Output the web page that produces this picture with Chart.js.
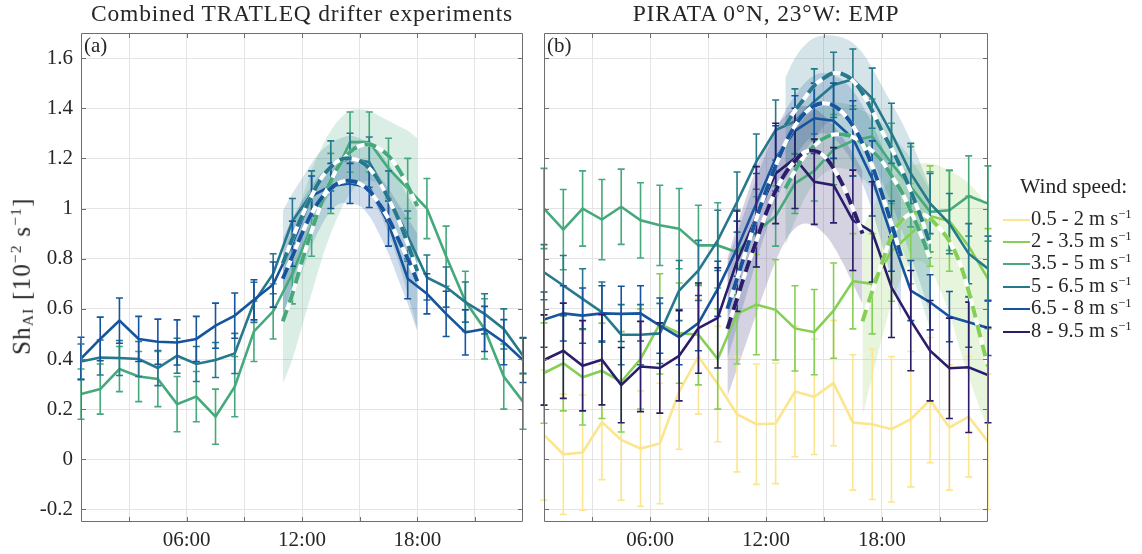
<!DOCTYPE html>
<html>
<head>
<meta charset="utf-8">
<script src="https://cdn.jsdelivr.net/npm/chart.js@4.4.1/dist/chart.umd.min.js"></script>
<style>
  body { margin: 0; width: 1142px; height: 554px; background: #fff; overflow: hidden;
         font-family: "Liberation Serif", "DejaVu Serif", serif; color: #262626; position: relative; }
  canvas { position: absolute; top: 0; }
  .title { position: absolute; top: 0px; font-size: 23.5px; text-align: center; white-space: nowrap; letter-spacing: 0.8px; }
  .tag { position: absolute; top: 33px; font-size: 21px; }
  #ylab { position: absolute; left: -128px; top: 261px; width: 300px; text-align: center; font-size: 25px;
          transform: rotate(-90deg); white-space: nowrap; letter-spacing: 1.2px; }
  #ylab sub, #legend sub { font-size: 0.62em; vertical-align: -0.25em; }
  #ylab sup, #legend sup { font-size: 0.62em; vertical-align: 0.55em; }
  #legend { position: absolute; left: 1000px; top: 174px; font-size: 20.5px; }
  #legend .lt { position: absolute; left: 20px; top: 0; white-space: nowrap; font-size: 21.5px; }
  #legend .le { position: absolute; left: 3px; white-space: nowrap; height: 22px; line-height: 22px; }
  #legend .sw { display: inline-block; width: 27px; height: 2px; vertical-align: middle; margin-right: 1px; }
</style>
</head>
<body>
<canvas id="ca" width="540" height="554" style="left:0"></canvas>
<canvas id="cb" width="602" height="554" style="left:540px"></canvas>
<div class="title" style="left:81px;width:442px">Combined TRATLEQ drifter experiments</div>
<div class="title" style="left:544px;width:444px">PIRATA 0°N, 23°W: EMP</div>
<div class="tag" style="left:84px">(a)</div>
<div class="tag" style="left:547px">(b)</div>
<div id="ylab">Sh<sub>AI</sub> [10<sup>−2</sup> s<sup>−1</sup>]</div>
<div id="legend">
  <div class="lt">Wind speed:</div>
  <div class="le" style="top:29px"><span class="sw" style="background:#fbe68f"></span>0.5 - 2 m s<sup>−1</sup></div>
  <div class="le" style="top:51px"><span class="sw" style="background:#86cf55"></span>2 - 3.5 m s<sup>−1</sup></div>
  <div class="le" style="top:73px"><span class="sw" style="background:#45a97b"></span>3.5 - 5 m s<sup>−1</sup></div>
  <div class="le" style="top:96px"><span class="sw" style="background:#26788c"></span>5 - 6.5 m s<sup>−1</sup></div>
  <div class="le" style="top:118px"><span class="sw" style="background:#17549e"></span>6.5 - 8 m s<sup>−1</sup></div>
  <div class="le" style="top:141px"><span class="sw" style="background:#2b1d6b"></span>8 - 9.5 m s<sup>−1</sup></div>
</div>
<script>
// ---- hourly bins (local time, hours) ----
const hours = [0.5, 1.5, 2.5, 3.5, 4.5, 5.5, 6.5, 7.5, 8.5, 9.5, 10.5, 11.5,
               12.5, 13.5, 14.5, 15.5, 16.5, 17.5, 18.5, 19.5, 20.5, 21.5, 22.5, 23.5];

// ---- colours per wind-speed class ----
const colYellow = '#fbe68f', colLime = '#86cf55', colGreen = '#45a97b',
      colTeal = '#26788c', colBlue = '#17549e', colIndigo = '#2b1d6b';

// ---- axis ticks ----
const yTicks = [-0.2, 0, 0.2, 0.4, 0.6, 0.8, 1, 1.2, 1.4, 1.6];
const xGridHours = [3, 6, 9, 12, 15, 18, 21];
const xLabelHours = [6, 12, 18];

// ---- (a) drifter experiments: mean shear and error per hour ----
const aGreen    = [0.26, 0.28, 0.36, 0.33, 0.32, 0.22, 0.25, 0.17, 0.29, 0.51, 0.59, 0.74,
                   0.93, 1.10, 1.265, 1.265, 1.16, 1.08, 1.00, 0.81, 0.63, 0.52, 0.33, 0.23];
const aGreenErr = [0.10, 0.10, 0.09, 0.10, 0.11, 0.11, 0.10, 0.11, 0.12, 0.12, 0.11, 0.12,
                   0.12, 0.12, 0.12, 0.12, 0.12, 0.12, 0.12, 0.12, 0.12, 0.12, 0.13, 0.11];
const aTeal     = [0.39, 0.406, 0.404, 0.40, 0.364, 0.413, 0.38, 0.396, 0.422, 0.626, 0.74, 0.95,
                   1.06, 1.17, 1.20, 1.185, 1.05, 0.89, 0.725, 0.687, 0.627, 0.58, 0.52, 0.413];
const aTealErr  = [0.07, 0.07, 0.07, 0.07, 0.07, 0.07, 0.07, 0.07, 0.08, 0.08, 0.08, 0.09,
                   0.09, 0.10, 0.10, 0.10, 0.10, 0.10, 0.09, 0.08, 0.08, 0.08, 0.08, 0.07];
const aBlue     = [0.402, 0.48, 0.553, 0.48, 0.469, 0.466, 0.48, 0.533, 0.573, 0.636, 0.697, 0.86,
                   1.05, 1.09, 1.10, 1.084, 0.94, 0.72, 0.66, 0.58, 0.506, 0.52, 0.467, 0.396];
const aBlueErr  = [0.085, 0.087, 0.09, 0.09, 0.09, 0.09, 0.09, 0.09, 0.09, 0.08, 0.09, 0.09,
                   0.08, 0.09, 0.08, 0.08, 0.09, 0.08, 0.08, 0.09, 0.09, 0.09, 0.09, 0.09];

// ---- (a) fitted diurnal curves with confidence band ----
const aFitHours = [11, 11.5, 12, 12.5, 13, 13.5, 14, 14.5, 15, 15.5, 16, 16.5, 17, 17.5, 18];
const aGreenFit = [0.55, 0.66, 0.79, 0.91, 1.02, 1.11, 1.18, 1.225, 1.25, 1.255, 1.24, 1.21, 1.16, 1.09, 1.01];
const aGreenHi  = [0.80, 0.92, 1.04, 1.15, 1.24, 1.31, 1.36, 1.39, 1.395, 1.39, 1.37, 1.35, 1.33, 1.31, 1.28];
const aGreenLo  = [0.30, 0.40, 0.53, 0.66, 0.79, 0.90, 0.99, 1.06, 1.10, 1.11, 1.10, 1.06, 0.99, 0.89, 0.76];
const aTealFit  = [0.78, 0.88, 0.97, 1.05, 1.12, 1.165, 1.195, 1.20, 1.19, 1.16, 1.11, 1.04, 0.96, 0.86, 0.75];
const aTealHi   = [0.99, 1.06, 1.12, 1.18, 1.23, 1.26, 1.28, 1.29, 1.28, 1.26, 1.23, 1.18, 1.12, 1.05, 0.99];
const aTealLo   = [0.56, 0.70, 0.82, 0.92, 1.00, 1.06, 1.10, 1.11, 1.10, 1.06, 0.99, 0.90, 0.79, 0.66, 0.52];
const aBlueFit  = [0.72, 0.81, 0.90, 0.98, 1.04, 1.08, 1.105, 1.11, 1.10, 1.07, 1.02, 0.96, 0.88, 0.80, 0.71];
const aBlueHi   = [0.88, 0.96, 1.03, 1.09, 1.14, 1.17, 1.19, 1.20, 1.19, 1.17, 1.13, 1.08, 1.02, 0.96, 0.90];
const aBlueLo   = [0.55, 0.65, 0.75, 0.85, 0.93, 0.99, 1.02, 1.02, 1.01, 0.97, 0.90, 0.82, 0.72, 0.62, 0.51];

// ---- (b) PIRATA mooring: mean shear and error per hour ----
const bYellow    = [0.097, 0.02, 0.027, 0.149, 0.077, 0.043, 0.063, 0.27, 0.41, 0.30, 0.18, 0.14,
                    0.143, 0.27, 0.249, 0.304, 0.147, 0.14, 0.12, 0.16, 0.236, 0.127, 0.17, 0.07];
const bYellowErr = [0.26, 0.24, 0.23, 0.23, 0.24, 0.23, 0.24, 0.23, 0.23, 0.23, 0.23, 0.24,
                    0.24, 0.26, 0.23, 0.25, 0.27, 0.30, 0.29, 0.27, 0.25, 0.25, 0.24, 0.27];
const bLime      = [0.344, 0.383, 0.327, 0.353, 0.309, 0.40, 0.54, 0.503, 0.497, 0.40, 0.58, 0.617,
                    0.596, 0.522, 0.507, 0.593, 0.71, 0.70, 0.83, 0.90, 0.97, 0.95, 0.85, 0.72];
const bLimeErr   = [0.20, 0.19, 0.19, 0.19, 0.20, 0.20, 0.20, 0.20, 0.20, 0.20, 0.20, 0.20,
                    0.20, 0.17, 0.17, 0.19, 0.19, 0.20, 0.20, 0.20, 0.20, 0.20, 0.20, 0.20];
const bGreen     = [1.00, 0.916, 1.00, 0.956, 1.007, 0.953, 0.933, 0.92, 0.853, 0.853, 0.826, 0.907,
                    0.97, 1.10, 1.15, 1.235, 1.27, 1.287, 1.18, 1.087, 0.987, 0.993, 1.05, 1.02];
const bGreenErr  = [0.16, 0.16, 0.15, 0.16, 0.15, 0.15, 0.16, 0.16, 0.16, 0.17, 0.17, 0.14,
                    0.12, 0.12, 0.12, 0.14, 0.14, 0.15, 0.16, 0.16, 0.16, 0.16, 0.16, 0.15];
const bTeal      = [0.746, 0.693, 0.64, 0.587, 0.497, 0.497, 0.502, 0.673, 0.753, 0.873, 1.026, 1.187,
                    1.313, 1.347, 1.427, 1.493, 1.516, 1.44, 1.30, 1.14, 1.02, 0.94, 0.82, 0.76];
const bTealErr   = [0.11, 0.12, 0.12, 0.12, 0.12, 0.12, 0.12, 0.12, 0.12, 0.12, 0.12, 0.11,
                    0.12, 0.13, 0.13, 0.13, 0.12, 0.12, 0.12, 0.12, 0.12, 0.12, 0.12, 0.13];
const bBlue      = [0.557, 0.582, 0.573, 0.582, 0.58, 0.582, 0.533, 0.487, 0.543, 0.68, 0.84, 1.02,
                    1.20, 1.31, 1.36, 1.35, 1.28, 1.12, 0.89, 0.673, 0.626, 0.569, 0.547, 0.524];
const bBlueErr   = [0.11, 0.11, 0.11, 0.11, 0.11, 0.11, 0.11, 0.11, 0.11, 0.11, 0.11, 0.12,
                    0.13, 0.14, 0.14, 0.15, 0.15, 0.15, 0.14, 0.12, 0.11, 0.10, 0.10, 0.11];
const bIndigo    = [0.396, 0.433, 0.373, 0.397, 0.296, 0.37, 0.364, 0.413, 0.523, 0.564, 0.79, 0.967,
                    1.14, 1.20, 1.107, 1.093, 0.953, 0.907, 0.686, 0.553, 0.433, 0.363, 0.367, 0.336];
const bIndigoErr = [0.18, 0.19, 0.18, 0.18, 0.15, 0.18, 0.18, 0.18, 0.18, 0.20, 0.20, 0.20,
                    0.20, 0.20, 0.17, 0.15, 0.20, 0.20, 0.20, 0.20, 0.20, 0.20, 0.26, 0.19];

// ---- (b) fitted diurnal curves with confidence band ----
const bIndigoFitHours = [10, 10.5, 11, 11.5, 12, 12.5, 13, 13.5, 14, 14.5, 15, 15.5, 16, 16.5, 17];
const bIndigoFit = [0.52, 0.64, 0.76, 0.87, 0.98, 1.07, 1.14, 1.19, 1.225, 1.23, 1.21, 1.16, 1.09, 1.00, 0.90];
const bIndigoHi  = [0.80, 0.93, 1.05, 1.16, 1.25, 1.32, 1.37, 1.40, 1.41, 1.40, 1.37, 1.33, 1.28, 1.22, 1.15];
const bIndigoLo  = [0.25, 0.36, 0.47, 0.58, 0.69, 0.79, 0.87, 0.92, 0.94, 0.93, 0.90, 0.85, 0.78, 0.70, 0.62];
const bBlueFitHours = [10, 10.5, 11, 11.5, 12, 12.5, 13, 13.5, 14, 14.5, 15, 15.5, 16, 16.5, 17, 17.5, 18, 18.5, 19];
const bBlueFit = [0.60, 0.72, 0.84, 0.96, 1.07, 1.17, 1.26, 1.33, 1.38, 1.41, 1.42, 1.41, 1.38, 1.33, 1.26, 1.17, 1.06, 0.94, 0.81];
const bBlueHi  = [0.78, 0.90, 1.01, 1.12, 1.22, 1.31, 1.39, 1.45, 1.50, 1.53, 1.54, 1.53, 1.51, 1.47, 1.41, 1.34, 1.25, 1.15, 1.04];
const bBlueLo  = [0.40, 0.53, 0.66, 0.79, 0.91, 1.02, 1.12, 1.20, 1.26, 1.29, 1.30, 1.28, 1.24, 1.18, 1.10, 0.99, 0.86, 0.72, 0.57];
const bTealFitHours = [13, 13.5, 14, 14.5, 15, 15.5, 16, 16.5, 17, 17.5, 18, 18.5, 19, 19.5, 20, 20.5];
const bTealFit = [1.33, 1.39, 1.44, 1.49, 1.52, 1.54, 1.535, 1.51, 1.46, 1.39, 1.31, 1.24, 1.16, 1.07, 0.97, 0.86];
const bTealHi  = [1.52, 1.60, 1.65, 1.68, 1.69, 1.69, 1.68, 1.66, 1.62, 1.56, 1.49, 1.42, 1.35, 1.27, 1.18, 1.08];
const bTealLo  = [1.12, 1.18, 1.23, 1.28, 1.33, 1.36, 1.37, 1.34, 1.28, 1.20, 1.11, 1.02, 0.92, 0.81, 0.70, 0.58];
const bGreenFitHours = [13, 13.5, 14, 14.5, 15, 15.5, 16, 16.5, 17, 17.5, 18, 18.5, 19, 19.5, 20, 20.5];
const bGreenFit = [1.08, 1.15, 1.21, 1.25, 1.28, 1.295, 1.295, 1.285, 1.26, 1.23, 1.19, 1.13, 1.07, 0.99, 0.90, 0.80];
const bGreenHi  = [1.28, 1.32, 1.36, 1.39, 1.41, 1.42, 1.42, 1.41, 1.39, 1.37, 1.34, 1.30, 1.25, 1.20, 1.14, 1.07];
const bGreenLo  = [0.85, 0.95, 1.04, 1.10, 1.14, 1.16, 1.16, 1.15, 1.12, 1.08, 1.02, 0.94, 0.85, 0.75, 0.64, 0.52];
const bLimeFitHours = [17, 17.5, 18, 18.5, 19, 19.5, 20, 20.5, 21, 21.5, 22, 22.5, 23, 23.5];
const bLimeFit = [0.55, 0.67, 0.78, 0.89, 0.95, 0.98, 0.98, 0.96, 0.92, 0.87, 0.79, 0.67, 0.52, 0.37];
const bLimeHi  = [0.92, 1.00, 1.07, 1.12, 1.15, 1.17, 1.18, 1.18, 1.17, 1.15, 1.13, 1.10, 1.06, 1.00];
const bLimeLo  = [0.17, 0.33, 0.48, 0.62, 0.72, 0.78, 0.79, 0.76, 0.68, 0.58, 0.45, 0.33, 0.22, 0.12];

// ---- helpers building Chart.js datasets ----
const pts = (xs, ys) => xs.map((x, i) => ({ x: x, y: ys[i] }));
function rgba(hex, a) {
  const n = parseInt(hex.slice(1), 16);
  return `rgba(${(n >> 16) & 255},${(n >> 8) & 255},${n & 255},${a})`;
}
function bandSets(xs, lo, hi, color, alpha, order) {
  return [
    { data: pts(xs, lo), borderWidth: 0, pointRadius: 0, fill: false, tension: 0.4, order: order, borderColor: 'transparent' },
    { data: pts(xs, hi), borderWidth: 0, pointRadius: 0, fill: '-1', tension: 0.4, order: order,
      borderColor: 'transparent', backgroundColor: rgba(color, alpha) }
  ];
}
function meanSet(ys, errs, color, order) {
  return { data: pts(hours, ys), errors: errs, borderColor: color, borderWidth: 2.6,
           pointRadius: 0, fill: false, tension: 0, order: order };
}
// fitted curve: white line underneath, coloured dashes on top
function fitSets(xs, ys, color, order) {
  return [
    { data: pts(xs, ys), borderColor: '#ffffff', borderWidth: 4, pointRadius: 0, fill: false,
      tension: 0.4, order: order + 1 },
    { data: pts(xs, ys), borderColor: color, borderWidth: 4, borderDash: [12, 8], pointRadius: 0,
      fill: false, tension: 0.4, order: order }
  ];
}

// error bars with caps, drawn right after each mean line
const errorBars = {
  id: 'errorBars',
  afterDatasetDraw(chart, args) {
    const ds = chart.data.datasets[args.index];
    if (!ds.errors) return;
    const ctx = chart.ctx, xs = chart.scales.x, ys = chart.scales.y;
    ctx.save();
    ctx.strokeStyle = ds.borderColor;
    ctx.lineWidth = 1.6;
    ds.data.forEach((p, i) => {
      const e = ds.errors[i];
      const x = xs.getPixelForValue(p.x);
      const y1 = ys.getPixelForValue(p.y - e), y2 = ys.getPixelForValue(p.y + e);
      ctx.beginPath();
      ctx.moveTo(x, y1); ctx.lineTo(x, y2);
      ctx.moveTo(x - 3.5, y1); ctx.lineTo(x + 3.5, y1);
      ctx.moveTo(x - 3.5, y2); ctx.lineTo(x + 3.5, y2);
      ctx.stroke();
    });
    ctx.restore();
  }
};

// closed axes box with inward tick marks
const boxTicks = {
  id: 'boxTicks',
  afterDraw(chart) {
    const { ctx, chartArea: a } = chart;
    const xs = chart.scales.x, ys = chart.scales.y;
    ctx.save();
    ctx.strokeStyle = '#6e6e6e';
    ctx.lineWidth = 1;
    ctx.beginPath();
    ctx.rect(a.left + 0.5, a.top + 0.5, a.right - a.left - 1, a.bottom - a.top - 1);
    xGridHours.forEach(h => {
      const x = Math.round(xs.getPixelForValue(h)) + 0.5;
      ctx.moveTo(x, a.bottom); ctx.lineTo(x, a.bottom - 5);
      ctx.moveTo(x, a.top); ctx.lineTo(x, a.top + 5);
    });
    yTicks.forEach(v => {
      const y = Math.round(ys.getPixelForValue(v)) + 0.5;
      ctx.moveTo(a.left, y); ctx.lineTo(a.left + 5, y);
      ctx.moveTo(a.right, y); ctx.lineTo(a.right - 5, y);
    });
    ctx.stroke();
    ctx.restore();
  }
};

function makeOptions(showY, yWidth, rightPad) {
  return {
    responsive: false,
    animation: false,
    events: [],
    layout: { padding: { top: 33, right: rightPad, bottom: 0, left: 0 } },
    plugins: { legend: { display: false }, tooltip: { enabled: false }, filler: { propagate: false } },
    scales: {
      x: {
        type: 'linear', min: 0.5, max: 23.5,
        afterBuildTicks: s => { s.ticks = xGridHours.map(v => ({ value: v })); },
        afterFit: s => { s.height = 32; },
        grid: { color: '#e4e4e4', drawTicks: false },
        border: { display: false },
        ticks: {
          autoSkip: false, maxRotation: 0, padding: 6, color: '#262626',
          font: { family: 'Liberation Serif', size: 21 },
          callback: v => xLabelHours.includes(v) ? String(v).padStart(2, '0') + ':00' : ''
        }
      },
      y: {
        type: 'linear', min: -0.25, max: 1.7,
        afterBuildTicks: s => { s.ticks = yTicks.map(v => ({ value: v })); },
        afterFit: s => { s.width = yWidth; },
        grid: { color: '#e4e4e4', drawTicks: false },
        border: { display: false },
        ticks: {
          display: showY, padding: 8, color: '#262626',
          font: { family: 'Liberation Serif', size: 21 },
          callback: v => String(Math.round(v * 10) / 10)
        }
      }
    }
  };
}

// ---- panel (a) ----
const dsA = [].concat(
  bandSets(aFitHours, aGreenLo, aGreenHi, colGreen, 0.2, 60),
  bandSets(aFitHours, aTealLo, aTealHi, colTeal, 0.2, 59),
  bandSets(aFitHours, aBlueLo, aBlueHi, colBlue, 0.2, 58),
  [meanSet(aGreen, aGreenErr, colGreen, 42),
   meanSet(aTeal, aTealErr, colTeal, 41),
   meanSet(aBlue, aBlueErr, colBlue, 40)],
  fitSets(aFitHours, aGreenFit, colGreen, 14),
  fitSets(aFitHours, aTealFit, colTeal, 12),
  fitSets(aFitHours, aBlueFit, colBlue, 10)
);
new Chart(document.getElementById('ca'), {
  type: 'line',
  data: { datasets: dsA },
  options: makeOptions(true, 81, 17),
  plugins: [errorBars, boxTicks]
});

// ---- panel (b) ----
const dsB = [].concat(
  bandSets(bLimeFitHours, bLimeLo, bLimeHi, colLime, 0.2, 64),
  bandSets(bGreenFitHours, bGreenLo, bGreenHi, colGreen, 0.2, 63),
  bandSets(bTealFitHours, bTealLo, bTealHi, colTeal, 0.2, 62),
  bandSets(bBlueFitHours, bBlueLo, bBlueHi, colBlue, 0.2, 61),
  bandSets(bIndigoFitHours, bIndigoLo, bIndigoHi, colIndigo, 0.2, 60),
  [meanSet(bYellow, bYellowErr, colYellow, 45),
   meanSet(bLime, bLimeErr, colLime, 44),
   meanSet(bGreen, bGreenErr, colGreen, 43),
   meanSet(bTeal, bTealErr, colTeal, 42),
   meanSet(bBlue, bBlueErr, colBlue, 41),
   meanSet(bIndigo, bIndigoErr, colIndigo, 40)],
  fitSets(bLimeFitHours, bLimeFit, colLime, 18),
  fitSets(bGreenFitHours, bGreenFit, colGreen, 16),
  fitSets(bTealFitHours, bTealFit, colTeal, 14),
  fitSets(bBlueFitHours, bBlueFit, colBlue, 12),
  fitSets(bIndigoFitHours, bIndigoFit, colIndigo, 10)
);
new Chart(document.getElementById('cb'), {
  type: 'line',
  data: { datasets: dsB },
  options: makeOptions(false, 4, 154),
  plugins: [errorBars, boxTicks]
});
</script>
</body>
</html>
